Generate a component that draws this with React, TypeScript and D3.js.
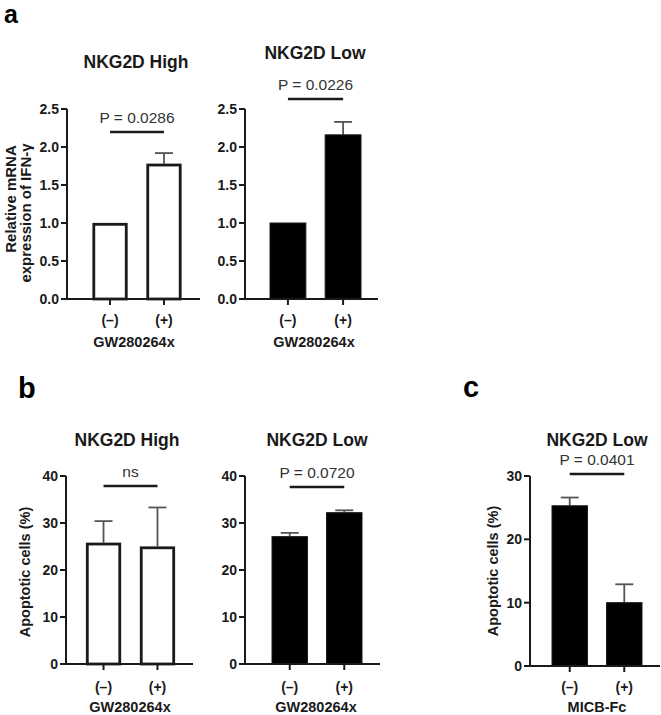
import React from "react";
import * as d3 from "d3";

// ---------- data ----------
const categories = ["(–)", "(+)"];

const aHighValues = [1.0, 1.78];
const aHighErrors = [0, 0.14];
const aLowValues = [1.0, 2.16];
const aLowErrors = [0, 0.17];

const bHighValues = [25.8, 25.0];
const bHighErrors = [4.6, 8.3];
const bLowValues = [27.1, 32.2];
const bLowErrors = [0.8, 0.5];

const cLowValues = [25.3, 10.0];
const cLowErrors = [1.3, 2.9];

const aTicks = [0, 0.5, 1.0, 1.5, 2.0, 2.5];
const bTicks = [0, 10, 20, 30, 40];
const cTicks = [0, 10, 20, 30];

const pTexts = ["P = 0.0286", "P = 0.0226", "ns", "P = 0.0720", "P = 0.0401"];
const titles = ["NKG2D High", "NKG2D Low", "NKG2D High", "NKG2D Low", "NKG2D Low"];
const xTitles = ["GW280264x", "GW280264x", "GW280264x", "GW280264x", "MICB-Fc"];

const FONT = "'Liberation Sans', Arial, Helvetica, sans-serif";
const INK = "#1a1a1a";

type PanelCfg = {
  values: number[];
  errors: number[];
  ticks: number[];
  fmt: (v: number) => string;
  yDomain: [number, number];
  yRange: [number, number];
  axisX: number;
  axisEnd: number;
  bandRange: [number, number];
  fill: string;
  title: string;
  titleX: number;
  titleY: number;
  pText: string;
  pTextY: number;
  pLineY: number;
  catY: number;
  xTitle: string;
  xTitleX: number;
  xTitleY: number;
};

function Panel({ cfg }: { cfg: PanelCfg }) {
  const y = d3.scaleLinear().domain(cfg.yDomain).range(cfg.yRange);
  const x = d3
    .scaleBand<string>()
    .domain(categories)
    .range(cfg.bandRange)
    .paddingInner(0.35)
    .paddingOuter(0);
  const bw = x.bandwidth();
  const cx = (c: string) => (x(c) as number) + bw / 2;
  const y0 = y(0);
  const yTop = y(cfg.yDomain[1]);
  const c1 = cx(categories[0]);
  const c2 = cx(categories[1]);
  return (
    <g>
      <text x={cfg.titleX} y={cfg.titleY} textAnchor="middle" fontFamily={FONT} fontWeight="bold" fontSize={17.5} fill={INK}>
        {cfg.title}
      </text>
      {categories.map((c, i) => {
        const v = cfg.values[i];
        const e = cfg.errors[i];
        const bx = x(c) as number;
        const top = y(v);
        const isWhite = cfg.fill === "white";
        return (
          <g key={c}>
            {e > 0 && (
              <g stroke="#555" strokeWidth={1.8}>
                <line x1={cx(c)} x2={cx(c)} y1={top} y2={y(v + e)} />
                <line x1={cx(c) - 9} x2={cx(c) + 9} y1={y(v + e)} y2={y(v + e)} />
              </g>
            )}
            <rect
              x={bx + (isWhite ? 1.3 : 0)}
              y={top + (isWhite ? 1.3 : 0)}
              width={bw - (isWhite ? 2.6 : 0)}
              height={y0 - top - (isWhite ? 1.3 : 0)}
              fill={isWhite ? "white" : "#000"}
              stroke={INK}
              strokeWidth={isWhite ? 2.8 : 1}
            />
          </g>
        );
      })}
      <line x1={cfg.axisX} x2={cfg.axisX} y1={yTop} y2={y0} stroke={INK} strokeWidth={2} />
      {cfg.ticks.map((t) => (
        <g key={t}>
          <line x1={cfg.axisX - 6} x2={cfg.axisX} y1={y(t)} y2={y(t)} stroke={INK} strokeWidth={2} />
          <text
            x={cfg.axisX - 8}
            y={y(t)}
            dy="0.36em"
            textAnchor="end"
            fontFamily={FONT}
            fontWeight="bold"
            fontSize={14}
            fill={INK}
          >
            {cfg.fmt(t)}
          </text>
        </g>
      ))}
      <line x1={cfg.axisX - 1} x2={cfg.axisEnd} y1={y0} y2={y0} stroke={INK} strokeWidth={2} />
      {categories.map((c) => (
        <g key={c}>
          <line x1={cx(c)} x2={cx(c)} y1={y0} y2={y0 + 6} stroke={INK} strokeWidth={2} />
          <text x={cx(c)} y={cfg.catY} textAnchor="middle" fontFamily={FONT} fontWeight="bold" fontSize={14} fill={INK}>
            {c}
          </text>
        </g>
      ))}
      <text x={cfg.xTitleX} y={cfg.xTitleY} textAnchor="middle" fontFamily={FONT} fontWeight="bold" fontSize={14.5} fill={INK}>
        {cfg.xTitle}
      </text>
      <line x1={c1} x2={c2} y1={cfg.pLineY} y2={cfg.pLineY} stroke={INK} strokeWidth={2.5} />
      <text x={(c1 + c2) / 2} y={cfg.pTextY} textAnchor="middle" fontFamily={FONT} fontSize={15.5} fill="#333">
        {cfg.pText}
      </text>
    </g>
  );
}

export default function App() {
  const f1 = (v: number) => d3.format(".1f")(v);
  const f0 = (v: number) => d3.format("d")(v);

  const panels: PanelCfg[] = [
    {
      values: aHighValues, errors: aHighErrors, ticks: aTicks, fmt: f1,
      yDomain: [0, 2.5], yRange: [299, 109], axisX: 67, axisEnd: 200, bandRange: [92.5, 181.5],
      fill: "white", title: titles[0], titleX: 136, titleY: 68, pText: pTexts[0], pTextY: 123, pLineY: 132,
      catY: 325, xTitle: xTitles[0], xTitleX: 134, xTitleY: 347,
    },
    {
      values: aLowValues, errors: aLowErrors, ticks: aTicks, fmt: f1,
      yDomain: [0, 2.5], yRange: [299, 109], axisX: 245, axisEnd: 378, bandRange: [270, 361],
      fill: "black", title: titles[1], titleX: 315, titleY: 59, pText: pTexts[1], pTextY: 90, pLineY: 99,
      catY: 325, xTitle: xTitles[1], xTitleX: 314, xTitleY: 347,
    },
    {
      values: bHighValues, errors: bHighErrors, ticks: bTicks, fmt: f0,
      yDomain: [0, 40], yRange: [664, 476], axisX: 66, axisEnd: 193, bandRange: [86, 175],
      fill: "white", title: titles[2], titleX: 127, titleY: 446, pText: pTexts[2], pTextY: 477, pLineY: 486,
      catY: 692, xTitle: xTitles[2], xTitleX: 130, xTitleY: 712,
    },
    {
      values: bLowValues, errors: bLowErrors, ticks: bTicks, fmt: f0,
      yDomain: [0, 40], yRange: [664, 476], axisX: 245, axisEnd: 380, bandRange: [272, 362],
      fill: "black", title: titles[3], titleX: 317, titleY: 446, pText: pTexts[3], pTextY: 478, pLineY: 487,
      catY: 692, xTitle: xTitles[3], xTitleX: 316, xTitleY: 712,
    },
    {
      values: cLowValues, errors: cLowErrors, ticks: cTicks, fmt: f0,
      yDomain: [0, 30], yRange: [666, 476], axisX: 530, axisEnd: 660, bandRange: [552, 642],
      fill: "black", title: titles[4], titleX: 597, titleY: 446, pText: pTexts[4], pTextY: 465, pLineY: 474,
      catY: 692, xTitle: xTitles[4], xTitleX: 597, xTitleY: 712,
    },
  ];

  return (
    <svg
      width={661}
      height={715}
      viewBox="0 0 661 715"
      style={{ position: "absolute", left: 0, top: 0, background: "white" }}
    >
      <rect width={661} height={715} fill="white" />
      <text x={4} y={23} fontFamily={FONT} fontWeight="bold" fontSize={25} fill="#000">a</text>
      <text x={18} y={398} fontFamily={FONT} fontWeight="bold" fontSize={29} fill="#000">b</text>
      <text x={463} y={397} fontFamily={FONT} fontWeight="bold" fontSize={29} fill="#000">c</text>

      <text transform="translate(16,199) rotate(-90)" textAnchor="middle" fontFamily={FONT} fontWeight="bold" fontSize={15} fill={INK}>
        Relative mRNA
      </text>
      <text transform="translate(31,213) rotate(-90)" textAnchor="middle" fontFamily={FONT} fontWeight="bold" fontSize={15} fill={INK}>
        expression of IFN-γ
      </text>
      <text transform="translate(30,572) rotate(-90)" textAnchor="middle" fontFamily={FONT} fontWeight="bold" fontSize={14.5} fill={INK}>
        Apoptotic cells (%)
      </text>
      <text transform="translate(498,571) rotate(-90)" textAnchor="middle" fontFamily={FONT} fontWeight="bold" fontSize={14.5} fill={INK}>
        Apoptotic cells (%)
      </text>

      {panels.map((p, i) => (
        <Panel key={i} cfg={p} />
      ))}
    </svg>
  );
}
